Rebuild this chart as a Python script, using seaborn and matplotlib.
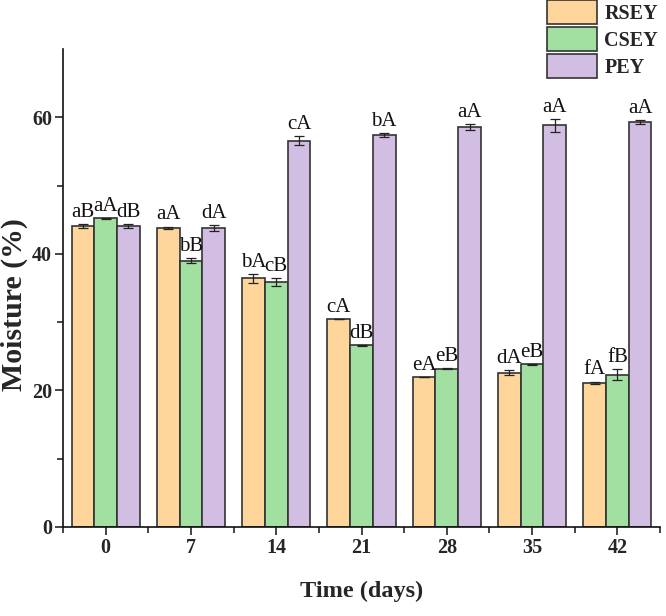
import numpy as np
import pandas as pd
import matplotlib
matplotlib.use("Agg")
import matplotlib.pyplot as plt
import seaborn as sns
from matplotlib.ticker import FixedLocator

days = ["0", "7", "14", "21", "28", "35", "42"]
samples = ["RSEY", "CSEY", "PEY"]
rsey = [44.1, 43.8, 36.4, 30.5, 22.0, 22.6, 21.1]
csey = [45.2, 39.0, 35.9, 26.6, 23.2, 23.8, 22.3]
pey = [44.1, 43.8, 56.6, 57.4, 58.6, 58.8, 59.3]
rsey_err = [0.3, 0.2, 0.7, 0.0, 0.0, 0.4, 0.2]
csey_err = [0.1, 0.4, 0.6, 0.1, 0.1, 0.1, 0.8]
pey_err = [0.3, 0.4, 0.6, 0.3, 0.4, 0.9, 0.3]
rsey_lab = ["aB", "aA", "bA", "cA", "eA", "dA", "fA"]
csey_lab = ["aA", "bB", "cB", "dB", "eB", "eB", "fB"]
pey_lab = ["dB", "dA", "cA", "bA", "aA", "aA", "aA"]
colors = ["#FED69B", "#A2E0A2", "#D3BEE3"]

sns.set_style("ticks")
plt.rcParams["font.family"] = ["Liberation Serif", "DejaVu Serif"]

df = pd.DataFrame({
    "Time": days * 3,
    "Sample": [s for s in samples for _ in days],
    "Moisture": rsey + csey + pey,
})

fig = plt.figure(figsize=(6.66, 6.16), dpi=100)
ax = fig.add_axes([63/666, 1-527/616, (660-63)/666, (527-49)/616])
sns.barplot(data=df, x="Time", y="Moisture", hue="Sample", order=days,
            hue_order=samples, palette=colors, saturation=1, edgecolor="#333333",
            linewidth=1.2, errorbar=None, width=0.8, ax=ax, legend=False)

errs = [rsey_err, csey_err, pey_err]
labs = [rsey_lab, csey_lab, pey_lab]
vals = [rsey, csey, pey]
bar_conts = list(ax.containers)[:3]
for k, cont in enumerate(bar_conts):
    xs = [b.get_x() + b.get_width()/2 for b in cont.patches]
    ax.errorbar(xs, vals[k], yerr=errs[k], fmt="none", ecolor="#222222",
                elinewidth=0.9, capsize=3.5, capthick=0.9, zorder=5)
    for x, v, e, t in zip(xs, vals[k], errs[k], labs[k]):
        ax.annotate(t, (x, v + e), xytext=(0, 1.5), textcoords="offset points",
                    ha="center", va="bottom", fontsize=15, color="#111111")

ax.set_ylim(0, 70)
ax.set_xlim(-0.5, 6.5)
ax.yaxis.set_major_locator(FixedLocator([0, 20, 40, 60]))
ax.yaxis.set_minor_locator(FixedLocator([10, 30, 50]))
ax.xaxis.set_minor_locator(FixedLocator(np.arange(-0.5, 7, 1.0)))
ax.tick_params(axis="both", which="major", direction="out", length=6, width=1.2,
               labelsize=14.5, pad=2)
ax.tick_params(axis="both", which="minor", direction="out", length=4, width=1.2)
for lbl in ax.get_xticklabels() + ax.get_yticklabels():
    lbl.set_fontweight("bold")
for s in ["top", "right"]:
    ax.spines[s].set_visible(False)
for s in ["left", "bottom"]:
    ax.spines[s].set_linewidth(1.2)
    ax.spines[s].set_color("#111111")

ax.set_xlabel("Time (days)", fontsize=17.5, fontweight="bold", labelpad=16)
ax.set_ylabel("Moisture (%)", fontsize=21.5, fontweight="bold")
ax.yaxis.set_label_coords(-35/597, 0.465)

handles = [plt.Rectangle((0, 0), 1, 1, facecolor=c, edgecolor="#333333", linewidth=1.2)
           for c in colors]
fig.legend(handles, samples, loc="upper left", bbox_to_anchor=(547/666, 1.0),
           frameon=False, prop={"weight": "bold", "size": 14.5},
           handlelength=2.5, handleheight=1.45, labelspacing=0.15,
           handletextpad=0.35, borderpad=0, borderaxespad=0)

fig.savefig("out.png", dpi=100)
